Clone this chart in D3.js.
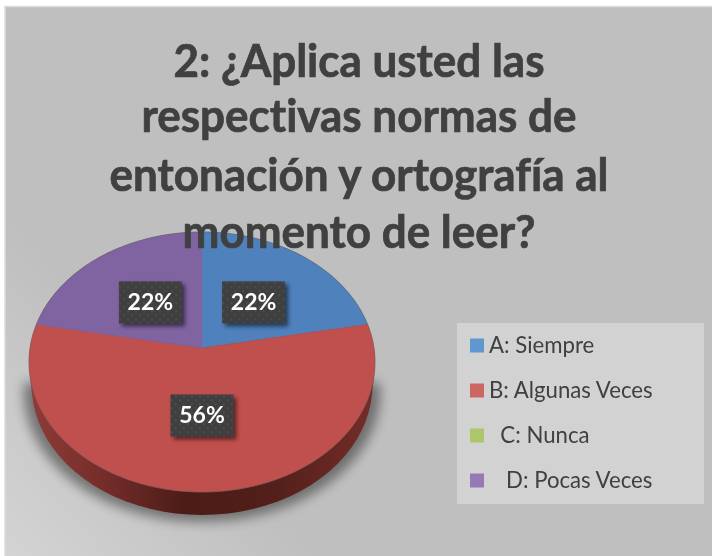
<!DOCTYPE html>
<html><head><meta charset="utf-8">
<script src="https://cdn.jsdelivr.net/npm/d3@7/dist/d3.min.js"></script>
<style>html,body{margin:0;padding:0;background:#fff}svg{display:block;filter:blur(0.45px)}text{font-variant-ligatures:none}</style></head>
<body><svg id="c" width="712" height="556"></svg>
<script>
const titleLines = ["2: ¿Aplica usted las","respectivas normas de","entonación y ortografía al","momento de leer?"];
const categories = ["A: Siempre","B: Algunas Veces","C: Nunca","D: Pocas Veces"];
const legendLabels = ["A: Siempre","B: Algunas Veces","\u00a0\u00a0C: Nunca","\u00a0\u00a0\u00a0D: Pocas Veces"];
const values = [22,56,0,22];
const sliceColors = ["#4f81bd","#c0504d","#9bbb59","#8064a2"];
const legendColors = ["#5f97cf","#cc6660","#abc769","#9678b4"];

const svg = d3.select("#c");
const defs = svg.append("defs");
const bg = defs.append("linearGradient").attr("id","bg").attr("gradientUnits","userSpaceOnUse").attr("x1",0).attr("y1",556).attr("x2",170).attr("y2",400);
bg.append("stop").attr("offset",0).attr("stop-color","#d4d4d4");
bg.append("stop").attr("offset",1).attr("stop-color","#bfbfbf");
const wall = defs.append("linearGradient").attr("id","wall").attr("gradientUnits","userSpaceOnUse").attr("x1",30).attr("x2",376).attr("y1",0).attr("y2",0);
[[0,"#8e3c38"],[0.2,"#762e2b"],[0.45,"#4c1c17"],[0.7,"#521f1a"],[1,"#752d29"]].forEach(s=>wall.append("stop").attr("offset",s[0]).attr("stop-color",s[1]));
defs.append("filter").attr("id","blurBig").attr("x","-20%").attr("y","-20%").attr("width","140%").attr("height","140%").append("feGaussianBlur").attr("stdDeviation",6);
defs.append("filter").attr("id","blurSm").attr("x","-30%").attr("y","-30%").attr("width","160%").attr("height","160%").append("feGaussianBlur").attr("stdDeviation",2);
const pat = defs.append("pattern").attr("id","dots").attr("patternUnits","userSpaceOnUse").attr("width",8).attr("height",8);
pat.append("rect").attr("width",8).attr("height",8).attr("fill","#3f3f3f");
pat.append("rect").attr("x",1).attr("y",1).attr("width",1.5).attr("height",1.5).attr("fill","#565656");
pat.append("rect").attr("x",5).attr("y",5).attr("width",1.5).attr("height",1.5).attr("fill","#565656");

// frame: only the left and top edges fall inside the picture
svg.append("rect").attr("x",5).attr("y",6.5).attr("width",720).attr("height",560).attr("fill","url(#bg)").attr("stroke","#dcdcdc").attr("stroke-width",1.5);

// perspective pie geometry
const cx=202, apexY=348, R=172, A=128.5, k=0.1077, depth=23;
const project = (theta,r=1)=>{const u=r*Math.sin(theta),v=r*Math.cos(theta),w=1+k*v;return [cx+R*u/w,apexY-A*v/w];};
const arcPts=(a0,a1)=>d3.range(0,91).map(i=>project(a0+(a1-a0)*i/90));
const line=d3.line();
const full=arcPts(0,2*Math.PI);
const lowered=full.map(p=>[cx+(p[0]-cx)*0.985,p[1]+depth]);
const shadow=full.filter(p=>p[1]>345).map(p=>[cx+(p[0]-cx)*1.03,p[1]+depth+7]);
svg.append("path").attr("d",line(d3.polygonHull(shadow))+"Z").attr("fill","#000").attr("opacity",0.42).attr("filter","url(#blurBig)");
const hull=d3.polygonHull(full.concat(lowered));
svg.append("path").attr("d",line(hull)+"Z").attr("fill","url(#wall)");

const pie=d3.pie().sort(null).value(d=>d)(values);
const color=d3.scaleOrdinal().domain(categories).range(sliceColors);
svg.append("g").selectAll("path").data(pie.filter(d=>d.value>0)).join("path")
  .attr("d",d=>line([project(0,0),...arcPts(d.startAngle,d.endAngle)])+"Z")
  .attr("fill",d=>color(categories[d.index])).attr("stroke",d=>color(categories[d.index])).attr("stroke-width",0.5);
svg.append("path").attr("d",line(full)+"Z").attr("fill","none").attr("stroke","#666").attr("stroke-opacity",0.45).attr("stroke-width",1);

// data labels
const labelG=svg.append("g").selectAll("g").data(pie.filter(d=>d.value>0)).join("g")
  .attr("transform",d=>{const [x,y]=project((d.startAngle+d.endAngle)/2,0.49);return `translate(${x},${y})`;});
labelG.append("rect").attr("x",-28.5).attr("y",-17).attr("width",63).attr("height",42).attr("fill","#000").attr("opacity",.55).attr("filter","url(#blurSm)");
labelG.append("rect").attr("x",-31.5).attr("y",-20).attr("width",63).attr("height",42).attr("fill","url(#dots)");
labelG.append("text").attr("x",0).attr("y",9).attr("text-anchor","middle").attr("fill","#fff")
  .attr("font-family","Lato").attr("font-weight",700).attr("font-size",23).text(d=>d.value+"%");

// title
const titleY=[77,131.5,191,248];
svg.append("g").selectAll("text").data(titleLines).join("text")
  .attr("transform",(d,i)=>`translate(359,${titleY[i]}) scale(1,1.06)`).attr("text-anchor","middle")
  .attr("font-family","Lato").attr("font-weight",700).attr("font-size",44).attr("fill","#404040")
  .attr("stroke","#404040").attr("stroke-width",0.7).text(d=>d);

// legend
svg.append("rect").attr("x",457).attr("y",323).attr("width",247).attr("height",181).attr("fill","#d2d2d2");
const ly=d3.scalePoint().domain(categories).range([345.5,480.5]);
const lg=svg.append("g").selectAll("g").data(categories).join("g").attr("transform",d=>`translate(470,${ly(d)})`);
lg.append("rect").attr("y",-7).attr("width",14).attr("height",14).attr("fill",(d,i)=>legendColors[i]);
lg.append("text").attr("x",19).attr("y",7).attr("font-family","Lato").attr("font-size",22.2).attr("fill","#404040").text((d,i)=>legendLabels[i]);
</script></body></html>
